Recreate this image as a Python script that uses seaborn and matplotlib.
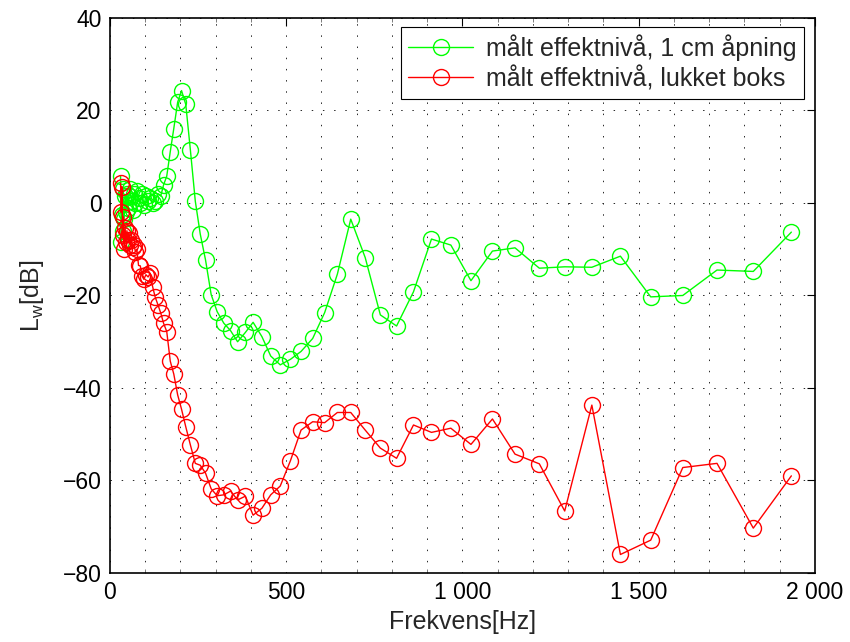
import matplotlib
matplotlib.use("Agg")
import matplotlib.pyplot as plt
import seaborn as sns
import pandas as pd
from matplotlib.ticker import FixedLocator, MultipleLocator, FuncFormatter

# ---- data ----
freq_hz = [30, 32, 34, 36, 38, 40, 43, 45, 48, 51, 54, 57, 61, 64, 68, 72, 76, 81, 86, 91,
           96, 102, 108, 114, 121, 128, 136, 144, 152, 161, 171, 181, 192, 203, 215, 228,
           242, 256, 271, 287, 304, 323, 342, 362, 384, 406, 431, 456, 483, 512, 542, 575,
           609, 645, 683, 724, 767, 813, 861, 912, 967, 1024, 1085, 1149, 1218, 1290, 1367,
           1448, 1534, 1625, 1722, 1825, 1933]

open_1cm_db = [5.8, -8.5, -2.5, 3.0, -6.0, -3.5, 1.5, -2.0, 2.0, -1.0, 1.5, 3.0, 0.5, -1.5,
               2.0, 0.0, 2.5, 1.0, 0.0, 2.0, -0.5, 1.5, 0.5, 1.0, 0.0, 0.5, 2.0, 1.5, 3.9,
               5.8, 11.1, 16.1, 21.8, 24.3, 21.3, 11.5, 0.4, -6.7, -12.3, -19.8, -23.5,
               -26.0, -27.6, -30.0, -28.0, -25.8, -28.9, -33.1, -35.0, -33.8, -32.1, -29.3,
               -23.7, -15.4, -3.5, -11.8, -24.2, -26.6, -19.2, -7.8, -9.1, -16.8, -10.4,
               -9.7, -14.1, -13.8, -13.9, -11.5, -20.3, -20.0, -14.5, -14.8, -6.3]

closed_box_db = [4.3, -2.0, 3.5, -7.0, -3.0, -10.0, -5.5, -8.5, -6.0, -8.0, -6.5, -9.0,
                 -8.0, -9.5, -9.0, -10.5, -10.0, -13.5, -13.6, -15.8, -16.5, -15.5, -16.0,
                 -15.2, -18.1, -20.3, -22.0, -23.8, -26.0, -27.8, -34.2, -37.0, -41.5,
                 -44.6, -48.4, -52.3, -56.3, -56.7, -58.4, -61.8, -63.3, -63.1, -62.3,
                 -64.2, -63.4, -67.5, -66.0, -63.1, -61.2, -55.7, -49.1, -47.3, -47.5,
                 -45.3, -45.3, -49.1, -53.0, -55.2, -48.0, -49.6, -48.7, -52.2, -46.7,
                 -54.3, -56.4, -66.6, -43.7, -76.0, -72.9, -57.2, -56.3, -70.3, -59.0]

series_labels = ["målt effektnivå, 1 cm åpning", "målt effektnivå, lukket boks"]
x_ticks = [0, 500, 1000, 1500, 2000]
y_ticks = [-80, -60, -40, -20, 0, 20, 40]

# ---- style ----
sns.set_style("white")
plt.rcParams["font.family"] = ["Liberation Sans", "DejaVu Sans"]
plt.rcParams["mathtext.fontset"] = "custom"
plt.rcParams["mathtext.rm"] = "Liberation Sans"
plt.rcParams["mathtext.it"] = "Liberation Sans"

fig = plt.figure(figsize=(8.5, 6.42), dpi=100)
ax = fig.add_axes([0.1294, 0.1075, 0.8294, 0.8645])

df = pd.DataFrame({"f": freq_hz, "g": open_1cm_db, "r": closed_box_db})

sns.lineplot(data=df, x="f", y="g", ax=ax, color=(0, 1, 0), lw=1.0, marker="o",
             markersize=11.5, markerfacecolor="none", markeredgecolor=(0, 1, 0),
             markeredgewidth=1.0, sort=False, estimator=None, label=series_labels[0])
sns.lineplot(data=df, x="f", y="r", ax=ax, color=(1, 0, 0), lw=1.0, marker="o",
             markersize=11.5, markerfacecolor="none", markeredgecolor=(1, 0, 0),
             markeredgewidth=1.0, sort=False, estimator=None, label=series_labels[1])

ax.set_xlim(0, 2000)
ax.set_ylim(-80, 40)
ax.xaxis.set_major_locator(FixedLocator(x_ticks))
ax.xaxis.set_minor_locator(MultipleLocator(100))
ax.yaxis.set_major_locator(FixedLocator(y_ticks))

def xfmt(v, pos):
    return f"{int(round(v)):,}".replace(",", " ")

def yfmt(v, pos):
    return f"{int(round(v))}".replace("-", "\u2212")

ax.xaxis.set_major_formatter(FuncFormatter(xfmt))
ax.yaxis.set_major_formatter(FuncFormatter(yfmt))

ax.tick_params(axis="both", which="major", direction="in", length=6, width=0.8,
               labelsize=16.5, top=True, right=True, pad=6, colors="k")
ax.tick_params(axis="x", which="minor", direction="in", length=3, width=0.6,
               top=True, bottom=True, color="0.4")

grid_ls = (0, (1.5, 10))
ax.grid(True, which="major", axis="both", color="0.15", linestyle=grid_ls, linewidth=0.7)
ax.grid(True, which="minor", axis="x", color="0.15", linestyle=grid_ls, linewidth=0.7)

for sp in ax.spines.values():
    sp.set_visible(True)
    sp.set_color("k")
    sp.set_linewidth(1.2)

ax.set_xlabel("Frekvens[Hz]", fontsize=18, labelpad=4)
ax.set_ylabel(r"L$_\mathrm{w}$[dB]", fontsize=18, labelpad=12)

leg = ax.legend(loc="upper right", bbox_to_anchor=(0.984, 0.984), borderaxespad=0,
                fontsize=18, frameon=True, fancybox=False, framealpha=1,
                edgecolor="k", handlelength=2.6, handletextpad=0.5,
                borderpad=0.3, labelspacing=0.2)
leg.get_frame().set_linewidth(0.8)

fig.savefig("out.png", dpi=100)
